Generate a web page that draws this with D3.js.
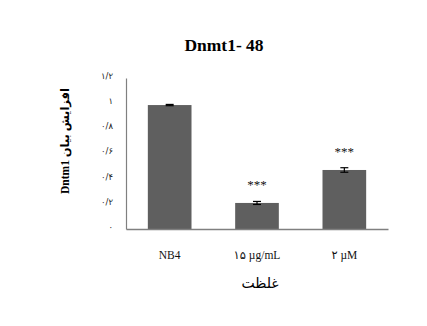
<!DOCTYPE html>
<html>
<head>
<meta charset="utf-8">
<script src="https://cdn.jsdelivr.net/npm/d3@7"></script>
<style>
  html, body { margin: 0; padding: 0; background: #fff; }
  svg { display: block; }
</style>
</head>
<body>
<svg id="chart" width="427" height="326"></svg>
<script>
// Relative Dnmt1 expression after 48 h
const categories = ["NB4", "۱۵ µg/mL", "۲ µM"];
const values = [0.985, 0.207, 0.469];
const errors = [0.005, 0.012, 0.018];
const significance = ["", "***", "***"];
const tickValues = [0, 0.2, 0.4, 0.6, 0.8, 1, 1.2];
const tickLabels = ["۰", "۰/۲", "۰/۴", "۰/۶", "۰/۸", "۱", "۱/۲"];

const svg = d3.select("#chart");
const margin = { left: 126, right: 39, top: 78, bottom: 97 };
const W = 427, H = 326;

const x = d3.scaleBand()
  .domain(categories)
  .range([margin.left, W - margin.right])
  .paddingInner(0.5)
  .paddingOuter(0.25);

const y = d3.scaleLinear()
  .domain([0, 1.2])
  .range([H - margin.bottom, margin.top]);

// Bars
svg.selectAll("rect.bar")
  .data(values)
  .join("rect")
  .attr("class", "bar")
  .attr("x", (d, i) => x(categories[i]))
  .attr("width", x.bandwidth())
  .attr("y", d => y(d))
  .attr("height", d => y(0) - y(d))
  .attr("fill", "#5f5f5f");

// Error bars
const cap = 4;
const eb = svg.append("g").attr("stroke", "#000").attr("stroke-width", 1.2);
values.forEach((v, i) => {
  const cx = x(categories[i]) + x.bandwidth() / 2;
  const y1 = y(v + errors[i]), y2 = y(v - errors[i]);
  eb.append("line").attr("x1", cx).attr("x2", cx).attr("y1", y1).attr("y2", y2);
  eb.append("line").attr("x1", cx - cap).attr("x2", cx + cap).attr("y1", y1).attr("y2", y1);
  eb.append("line").attr("x1", cx - cap).attr("x2", cx + cap).attr("y1", y2).attr("y2", y2);
});

// Significance markers
svg.selectAll("text.sig")
  .data(values)
  .join("text")
  .attr("class", "sig")
  .attr("x", (d, i) => x(categories[i]) + x.bandwidth() / 2)
  .attr("y", (d, i) => y(d + errors[i]) - 12)
  .attr("text-anchor", "middle")
  .attr("font-family", "Liberation Serif, serif")
  .attr("font-size", 13)
  .attr("fill", "#111")
  .text((d, i) => significance[i]);

// Y axis
const yAxis = d3.axisLeft(y)
  .tickValues(tickValues)
  .tickFormat((d, i) => tickLabels[i])
  .tickSize(0)
  .tickPadding(13);
const gy = svg.append("g")
  .attr("transform", `translate(${margin.left},0)`)
  .call(yAxis);
gy.select(".domain").attr("stroke", "#808080").attr("stroke-width", 1.2);
gy.selectAll("text")
  .attr("font-family", "DejaVu Sans, sans-serif")
  .attr("font-size", 8.5)
  .attr("fill", "#222")
  .attr("dy", "0.05em");

// X axis
const xAxis = d3.axisBottom(x).tickSize(0).tickPadding(22);
const gx = svg.append("g")
  .attr("transform", `translate(0,${y(0)})`)
  .call(xAxis);
gx.select(".domain").attr("stroke", "#808080").attr("stroke-width", 1.5);
gx.selectAll("text")
  .attr("font-family", "Liberation Serif, DejaVu Sans, serif")
  .attr("font-size", 11.5)
  .attr("fill", "#111");

// Title
svg.append("text")
  .attr("x", 224)
  .attr("y", 51)
  .attr("text-anchor", "middle")
  .attr("font-family", "Liberation Serif, serif")
  .attr("font-weight", "bold")
  .attr("font-size", 17.5)
  .attr("fill", "#000")
  .text("Dnmt1- 48");

// X axis title
svg.append("text")
  .attr("x", 260)
  .attr("y", 288)
  .attr("text-anchor", "middle")
  .attr("font-family", "DejaVu Sans, sans-serif")
  .attr("font-size", 14)
  .attr("fill", "#000")
  .text("غلظت");

// Y axis title
svg.append("text")
  .attr("transform", "translate(69,141) rotate(-90)")
  .attr("text-anchor", "middle")
  .attr("font-family", "Liberation Serif, DejaVu Sans, serif")
  .attr("font-weight", "bold")
  .attr("font-size", 11.5)
  .attr("fill", "#000")
  .text("Dntm1 افزایش بیان");
</script>
</body>
</html>
